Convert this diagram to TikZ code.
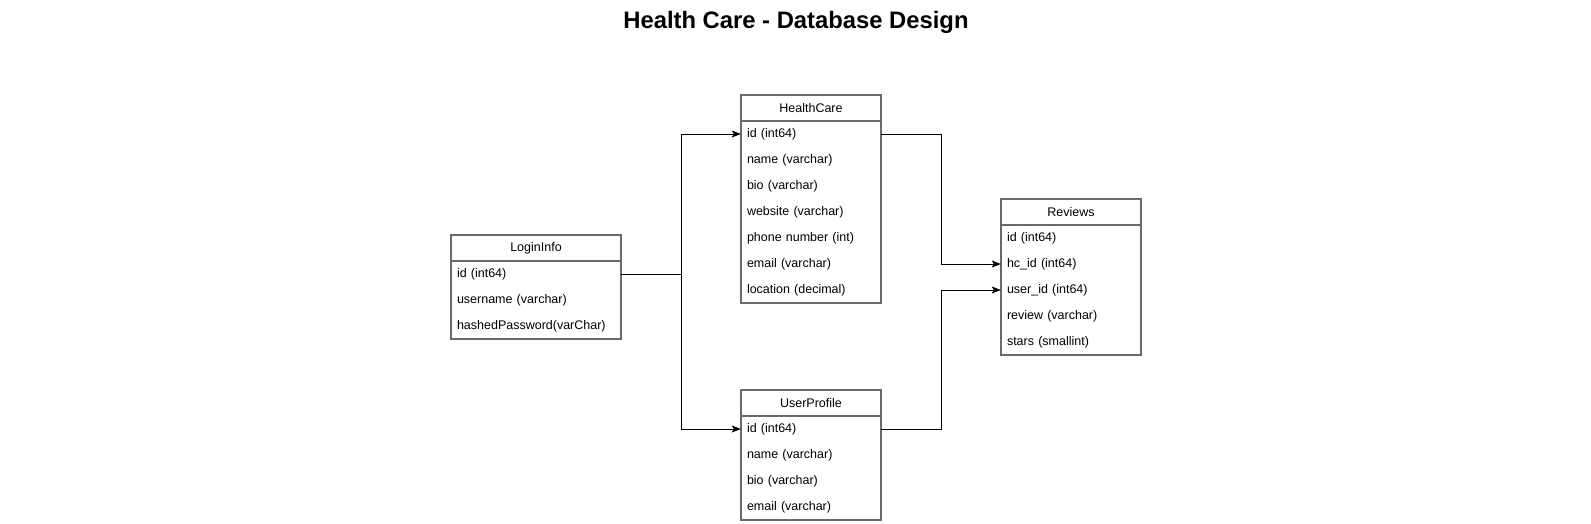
\documentclass[tikz,border=0pt]{standalone}
\usepackage{fontspec}
\setmainfont{Liberation Sans}
\usetikzlibrary{arrows.meta}

\definecolor{boxline}{HTML}{6A6A6A}

\tikzset{
  tblhead/.style={minimum height=26pt, inner sep=0pt, font=\fontsize{12.5}{14}\selectfont},
  tblrow/.style={minimum height=26pt, inner xsep=6pt, inner ysep=0pt, align=left,
    font=\fontsize{12.5}{14}\selectfont},
  tblbox/.style={draw=boxline, line width=1.6pt},
  link/.style={draw=black, line width=1pt},
  linkarrow/.style={link, -{Stealth[length=9pt, width=7pt, inset=2pt]}}
}

\begin{document}
\begin{tikzpicture}[x=1pt, y=-1pt]
  \useasboundingbox (0,0) rectangle (1591,523);

  \node[font=\bfseries\fontsize{23.8}{28}\selectfont] (title) at (796,22) {Health Care - Database Design};

  % LoginInfo
  \node[tblhead, minimum width=170pt] (login) at (536,248) {LoginInfo};
  \foreach \t [count=\i] in {id (int64), username (varchar), hashedPassword(varChar)}
    \node[tblrow, text width=158pt] (login-\i) at (536,{261+26*\i-13}) {\t};
  \draw[tblbox] (login.north west) rectangle (login-3.south east);
  \draw[tblbox] (login.south west) -- (login.south east);

  % HealthCare
  \node[tblhead, minimum width=140pt] (hc) at (811,108) {HealthCare};
  \foreach \t [count=\i] in {id (int64), name (varchar), bio (varchar), website (varchar),
      phone number (int), email (varchar), location (decimal)}
    \node[tblrow, text width=128pt] (hc-\i) at (811,{121+26*\i-13}) {\t};
  \draw[tblbox] (hc.north west) rectangle (hc-7.south east);
  \draw[tblbox] (hc.south west) -- (hc.south east);

  % UserProfile
  \node[tblhead, minimum width=140pt] (up) at (811,403) {UserProfile};
  \foreach \t [count=\i] in {id (int64), name (varchar), bio (varchar), email (varchar)}
    \node[tblrow, text width=128pt] (up-\i) at (811,{416+26*\i-13}) {\t};
  \draw[tblbox] (up.north west) rectangle (up-4.south east);
  \draw[tblbox] (up.south west) -- (up.south east);

  % Reviews
  \node[tblhead, minimum width=140pt] (rv) at (1071,212) {Reviews};
  \foreach \t [count=\i] in {id (int64), hc\_id (int64), user\_id (int64), review (varchar),
      stars (smallint)}
    \node[tblrow, text width=128pt] (rv-\i) at (1071,{225+26*\i-13}) {\t};
  \draw[tblbox] (rv.north west) rectangle (rv-5.south east);
  \draw[tblbox] (rv.south west) -- (rv.south east);

  % links
  \coordinate (split) at (681,274);
  \draw[link] (login-1.east) -- (split);
  \draw[linkarrow] (split) |- (hc-1.west);
  \draw[linkarrow] (split) |- (up-1.west);
  \draw[linkarrow] (hc-1.east) -- ++(60,0) |- (rv-2.west);
  \draw[linkarrow] (up-1.east) -- ++(60,0) |- (rv-3.west);
\end{tikzpicture}
\end{document}
